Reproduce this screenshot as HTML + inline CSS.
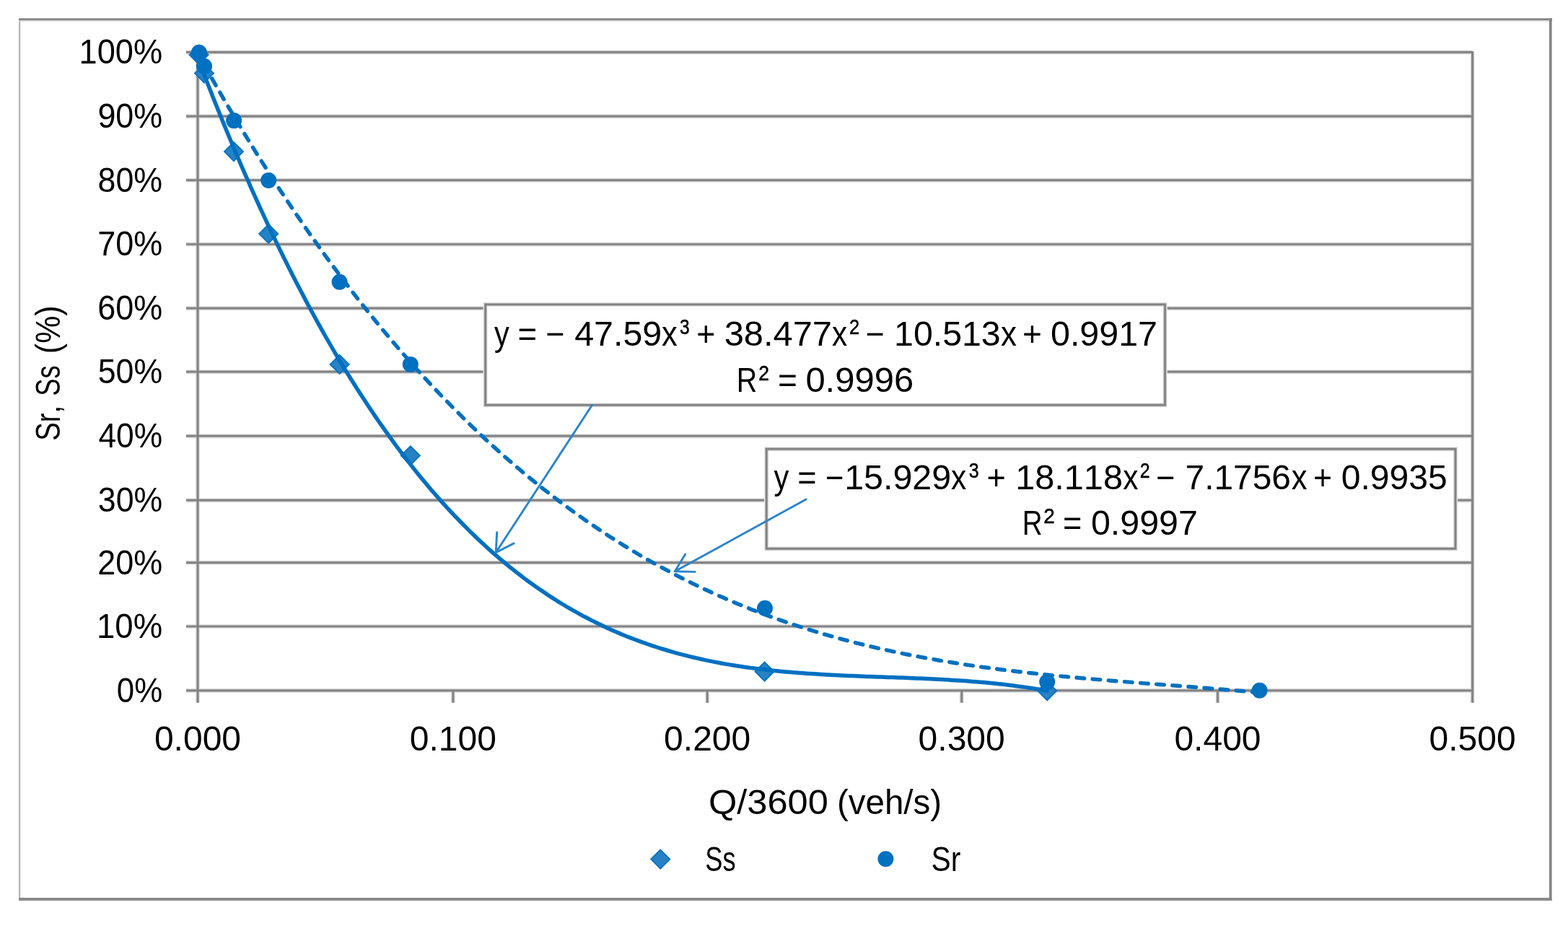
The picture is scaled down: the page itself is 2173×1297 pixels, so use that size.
<!DOCTYPE html>
<html lang="en">
<head>
<meta charset="utf-8">
<title>Sr, Ss (%) vs Q/3600 (veh/s)</title>
<style>
html,body{margin:0;padding:0;background:#fff;}
body{width:2173px;height:1297px;overflow:hidden;}
svg{display:block;}
text{font-family:"Liberation Sans",Arial,sans-serif;}
</style>
</head>
<body>
<svg width="2173" height="1297" viewBox="0 0 2173 1297">
<rect x="0" y="0" width="2173" height="1297" fill="#fff"/>
<g id="frame">
<rect x="26" y="25.5" width="2.2" height="1222" fill="#b4b4b4"/>
<rect x="26" y="25.3" width="2125" height="3.2" fill="#868686"/>
<rect x="26" y="28.5" width="2121" height="1.2" fill="#d8d8d8"/>
<rect x="2147" y="25.5" width="3.6" height="1222.5" fill="#848484"/>
<rect x="26" y="1244" width="2124.6" height="4" fill="#8a8a8a"/>
</g>
<g id="grid">
<path d="M258,956.9 L2040.6,956.9 M258,868.0 L2040.6,868.0 M258,779.6 L2040.6,779.6 M258,693.2 L2040.6,693.2 M258,604.2 L2040.6,604.2 M258,515.2 L2040.6,515.2 M258,427.1 L2040.6,427.1 M258,338.5 L2040.6,338.5 M258,249.7 L2040.6,249.7 M258,161.1 L2040.6,161.1 M258,72.4 L2040.6,72.4 M274.0,71.30000000000001 L274.0,973.8 M2040.6,71.30000000000001 L2040.6,973.8 M627.9,956.9 L627.9,973.8 M980.2,956.9 L980.2,973.8 M1332.7,956.9 L1332.7,973.8 M1687.5,956.9 L1687.5,973.8" fill="none" stroke="#eeeeee" stroke-width="6.4"/>
<path d="M258,956.9 L2040.6,956.9 M258,868.0 L2040.6,868.0 M258,779.6 L2040.6,779.6 M258,693.2 L2040.6,693.2 M258,604.2 L2040.6,604.2 M258,515.2 L2040.6,515.2 M258,427.1 L2040.6,427.1 M258,338.5 L2040.6,338.5 M258,249.7 L2040.6,249.7 M258,161.1 L2040.6,161.1 M258,72.4 L2040.6,72.4 M274.0,71.30000000000001 L274.0,973.8 M2040.6,71.30000000000001 L2040.6,973.8 M627.9,956.9 L627.9,973.8 M980.2,956.9 L980.2,973.8 M1332.7,956.9 L1332.7,973.8 M1687.5,956.9 L1687.5,973.8" fill="none" stroke="#c4c4c4" stroke-width="4.6"/>
<path d="M258,956.9 L2040.6,956.9 M258,868.0 L2040.6,868.0 M258,779.6 L2040.6,779.6 M258,693.2 L2040.6,693.2 M258,604.2 L2040.6,604.2 M258,515.2 L2040.6,515.2 M258,427.1 L2040.6,427.1 M258,338.5 L2040.6,338.5 M258,249.7 L2040.6,249.7 M258,161.1 L2040.6,161.1 M258,72.4 L2040.6,72.4 M274.0,71.30000000000001 L274.0,973.8 M2040.6,71.30000000000001 L2040.6,973.8 M627.9,956.9 L627.9,973.8 M980.2,956.9 L980.2,973.8 M1332.7,956.9 L1332.7,973.8 M1687.5,956.9 L1687.5,973.8" fill="none" stroke="#828282" stroke-width="2.7"/>
</g>
<g id="ss-markers" fill="#2682C4" stroke="#0A74C1" stroke-width="2">
<path d="M275.6,63.0 L288.6,76.0 L275.6,89.0 L262.6,76.0 Z"/>
<path d="M283.0,88.6 L296.0,101.6 L283.0,114.6 L270.0,101.6 Z"/>
<path d="M324.0,197.1 L337.0,210.1 L324.0,223.1 L311.0,210.1 Z"/>
<path d="M372.2,310.9 L385.2,323.9 L372.2,336.9 L359.2,323.9 Z"/>
<path d="M470.6,491.9 L483.6,504.9 L470.6,517.9 L457.6,504.9 Z"/>
<path d="M568.8,618.3 L581.8,631.3 L568.8,644.3 L555.8,631.3 Z"/>
<path d="M1059.6,917.6 L1072.6,930.6 L1059.6,943.6 L1046.6,930.6 Z"/>
<path d="M1451.2,944.3 L1464.2,957.3 L1451.2,970.3 L1438.2,957.3 Z"/>
</g>
<path id="ss-trend" transform="translate(0,0.4)" d="M275.6,83.9 L280.5,96.7 L285.4,109.4 L290.3,121.9 L295.2,134.3 L300.1,146.6 L305.0,158.7 L309.9,170.7 L314.8,182.6 L319.7,194.4 L324.6,206.0 L329.5,217.5 L334.4,228.9 L339.3,240.2 L344.2,251.3 L349.1,262.4 L354.0,273.3 L358.9,284.1 L363.8,294.7 L368.7,305.3 L373.6,315.7 L378.5,326.0 L383.4,336.2 L388.3,346.3 L393.2,356.3 L398.1,366.1 L403.0,375.8 L407.9,385.5 L412.8,395.0 L417.7,404.4 L422.6,413.7 L427.4,422.8 L432.3,431.9 L437.2,440.9 L442.1,449.7 L447.0,458.5 L451.9,467.1 L456.8,475.6 L461.7,484.1 L466.6,492.4 L471.5,500.6 L476.4,508.7 L481.3,516.7 L486.2,524.6 L491.1,532.4 L496.0,540.1 L500.9,547.7 L505.8,555.2 L510.7,562.6 L515.6,569.9 L520.5,577.2 L525.4,584.3 L530.3,591.3 L535.2,598.2 L540.1,605.0 L545.0,611.8 L549.9,618.4 L554.8,624.9 L559.7,631.4 L564.6,637.7 L569.5,644.0 L574.4,650.2 L579.3,656.3 L584.2,662.3 L589.1,668.2 L594.0,674.0 L598.9,679.8 L603.8,685.4 L608.7,691.0 L613.6,696.5 L618.5,701.9 L623.4,707.2 L628.3,712.4 L633.2,717.5 L638.1,722.6 L643.0,727.6 L647.9,732.5 L652.8,737.3 L657.7,742.1 L662.6,746.8 L667.5,751.3 L672.4,755.9 L677.3,760.3 L682.2,764.7 L687.1,769.0 L692.0,773.2 L696.9,777.3 L701.8,781.4 L706.7,785.4 L711.6,789.3 L716.5,793.2 L721.3,796.9 L726.2,800.7 L731.1,804.3 L736.0,807.9 L740.9,811.4 L745.8,814.8 L750.7,818.2 L755.6,821.5 L760.5,824.8 L765.4,828.0 L770.3,831.1 L775.2,834.2 L780.1,837.1 L785.0,840.1 L789.9,843.0 L794.8,845.8 L799.7,848.5 L804.6,851.2 L809.5,853.9 L814.4,856.4 L819.3,859.0 L824.2,861.4 L829.1,863.9 L834.0,866.2 L838.9,868.5 L843.8,870.8 L848.7,873.0 L853.6,875.1 L858.5,877.2 L863.4,879.3 L868.3,881.3 L873.2,883.2 L878.1,885.1 L883.0,887.0 L887.9,888.8 L892.8,890.5 L897.7,892.2 L902.6,893.9 L907.5,895.5 L912.4,897.1 L917.3,898.6 L922.2,900.1 L927.1,901.6 L932.0,903.0 L936.9,904.4 L941.8,905.7 L946.7,907.0 L951.6,908.2 L956.5,909.5 L961.4,910.6 L966.3,911.8 L971.2,912.9 L976.1,914.0 L981.0,915.0 L985.9,916.0 L990.8,917.0 L995.7,917.9 L1000.6,918.8 L1005.5,919.7 L1010.4,920.5 L1015.2,921.3 L1020.1,922.1 L1025.0,922.9 L1029.9,923.6 L1034.8,924.3 L1039.7,925.0 L1044.6,925.6 L1049.5,926.3 L1054.4,926.9 L1059.3,927.4 L1064.2,928.0 L1069.1,928.5 L1074.0,929.0 L1078.9,929.5 L1083.8,930.0 L1088.7,930.5 L1093.6,930.9 L1098.5,931.3 L1103.4,931.7 L1108.3,932.1 L1113.2,932.4 L1118.1,932.8 L1123.0,933.1 L1127.9,933.4 L1132.8,933.7 L1137.7,934.0 L1142.6,934.3 L1147.5,934.6 L1152.4,934.8 L1157.3,935.1 L1162.2,935.3 L1167.1,935.5 L1172.0,935.8 L1176.9,936.0 L1181.8,936.2 L1186.7,936.4 L1191.6,936.6 L1196.5,936.8 L1201.4,937.0 L1206.3,937.1 L1211.2,937.3 L1216.1,937.5 L1221.0,937.7 L1225.9,937.9 L1230.8,938.0 L1235.7,938.2 L1240.6,938.4 L1245.5,938.6 L1250.4,938.7 L1255.3,938.9 L1260.2,939.1 L1265.1,939.3 L1270.0,939.5 L1274.9,939.7 L1279.8,939.9 L1284.7,940.2 L1289.6,940.4 L1294.5,940.6 L1299.4,940.9 L1304.2,941.1 L1309.1,941.4 L1314.0,941.7 L1318.9,942.0 L1323.8,942.3 L1328.7,942.6 L1333.6,942.9 L1338.5,943.2 L1343.4,943.6 L1348.3,944.0 L1353.2,944.4 L1358.1,944.8 L1363.0,945.2 L1367.9,945.7 L1372.8,946.1 L1377.7,946.6 L1382.6,947.1 L1387.5,947.7 L1392.4,948.2 L1397.3,948.8 L1402.2,949.4 L1407.1,950.0 L1412.0,950.7 L1416.9,951.3 L1421.8,952.0 L1426.7,952.8 L1431.6,953.5 L1436.5,954.3 L1441.4,955.1 L1446.3,955.9 L1451.2,956.8" fill="none" stroke="#0070C0" stroke-width="5.5" stroke-linejoin="round" stroke-linecap="round"/>
<g id="sr-markers" fill="#0070C0">
<circle cx="275.8" cy="72.8" r="11.0"/>
<circle cx="283.0" cy="91.8" r="11.0"/>
<circle cx="324.1" cy="167.1" r="11.0"/>
<circle cx="372.2" cy="249.9" r="11.0"/>
<circle cx="470.6" cy="390.7" r="11.0"/>
<circle cx="568.8" cy="504.9" r="11.0"/>
<circle cx="1060.0" cy="842.7" r="11.0"/>
<circle cx="1451.2" cy="944.9" r="11.0"/>
<circle cx="1745.6" cy="956.8" r="11.0"/>
</g>
<path id="sr-trend" transform="translate(2.6,0.4)" d="M275.6,81.0 L281.7,91.9 L287.9,102.8 L294.0,113.5 L300.1,124.2 L306.2,134.7 L312.4,145.2 L318.5,155.5 L324.6,165.8 L330.7,176.0 L336.9,186.1 L343.0,196.0 L349.1,205.9 L355.2,215.8 L361.4,225.5 L367.5,235.1 L373.6,244.6 L379.7,254.1 L385.9,263.5 L392.0,272.7 L398.1,281.9 L404.2,291.0 L410.4,300.0 L416.5,308.9 L422.6,317.8 L428.7,326.5 L434.9,335.2 L441.0,343.8 L447.1,352.3 L453.2,360.7 L459.4,369.0 L465.5,377.3 L471.6,385.4 L477.7,393.5 L483.9,401.5 L490.0,409.5 L496.1,417.3 L502.2,425.1 L508.4,432.7 L514.5,440.3 L520.6,447.9 L526.7,455.3 L532.9,462.7 L539.0,469.9 L545.1,477.2 L551.2,484.3 L557.4,491.3 L563.5,498.3 L569.6,505.2 L575.7,512.1 L581.8,518.8 L588.0,525.5 L594.1,532.1 L600.2,538.6 L606.4,545.1 L612.5,551.5 L618.6,557.8 L624.7,564.0 L630.9,570.2 L637.0,576.3 L643.1,582.4 L649.2,588.3 L655.4,594.2 L661.5,600.0 L667.6,605.8 L673.7,611.5 L679.9,617.1 L686.0,622.7 L692.1,628.1 L698.2,633.6 L704.3,638.9 L710.5,644.2 L716.6,649.4 L722.7,654.6 L728.9,659.7 L735.0,664.7 L741.1,669.7 L747.2,674.6 L753.4,679.4 L759.5,684.2 L765.6,688.9 L771.7,693.6 L777.9,698.2 L784.0,702.7 L790.1,707.2 L796.2,711.6 L802.4,716.0 L808.5,720.3 L814.6,724.6 L820.7,728.7 L826.9,732.9 L833.0,736.9 L839.1,741.0 L845.2,744.9 L851.4,748.8 L857.5,752.7 L863.6,756.5 L869.7,760.2 L875.9,763.9 L882.0,767.6 L888.1,771.1 L894.2,774.7 L900.4,778.2 L906.5,781.6 L912.6,785.0 L918.7,788.3 L924.9,791.6 L931.0,794.8 L937.1,798.0 L943.2,801.1 L949.4,804.2 L955.5,807.2 L961.6,810.2 L967.7,813.2 L973.9,816.1 L980.0,818.9 L986.1,821.7 L992.2,824.5 L998.4,827.2 L1004.5,829.8 L1010.6,832.5 L1016.7,835.1 L1022.9,837.6 L1029.0,840.1 L1035.1,842.5 L1041.2,845.0 L1047.3,847.3 L1053.5,849.7 L1059.6,852.0 L1065.7,854.2 L1071.9,856.4 L1078.0,858.6 L1084.1,860.7 L1090.2,862.8 L1096.3,864.9 L1102.5,866.9 L1108.6,868.9 L1114.7,870.8 L1120.8,872.7 L1127.0,874.6 L1133.1,876.5 L1139.2,878.3 L1145.3,880.0 L1151.5,881.8 L1157.6,883.5 L1163.7,885.2 L1169.8,886.8 L1176.0,888.4 L1182.1,890.0 L1188.2,891.5 L1194.3,893.1 L1200.5,894.5 L1206.6,896.0 L1212.7,897.4 L1218.8,898.8 L1225.0,900.2 L1231.1,901.5 L1237.2,902.9 L1243.3,904.1 L1249.5,905.4 L1255.6,906.6 L1261.7,907.8 L1267.8,909.0 L1274.0,910.2 L1280.1,911.3 L1286.2,912.4 L1292.3,913.5 L1298.5,914.6 L1304.6,915.6 L1310.7,916.6 L1316.8,917.6 L1323.0,918.6 L1329.1,919.6 L1335.2,920.5 L1341.3,921.4 L1347.5,922.3 L1353.6,923.2 L1359.7,924.1 L1365.8,924.9 L1372.0,925.7 L1378.1,926.5 L1384.2,927.3 L1390.3,928.1 L1396.5,928.8 L1402.6,929.6 L1408.7,930.3 L1414.8,931.0 L1421.0,931.7 L1427.1,932.4 L1433.2,933.0 L1439.3,933.7 L1445.5,934.3 L1451.6,935.0 L1457.7,935.6 L1463.8,936.2 L1470.0,936.8 L1476.1,937.4 L1482.2,937.9 L1488.4,938.5 L1494.5,939.1 L1500.6,939.6 L1506.7,940.2 L1512.8,940.7 L1519.0,941.2 L1525.1,941.7 L1531.2,942.3 L1537.4,942.8 L1543.5,943.3 L1549.6,943.8 L1555.7,944.2 L1561.8,944.7 L1568.0,945.2 L1574.1,945.7 L1580.2,946.2 L1586.4,946.7 L1592.5,947.1 L1598.6,947.6 L1604.7,948.1 L1610.8,948.5 L1617.0,949.0 L1623.1,949.5 L1629.2,949.9 L1635.4,950.4 L1641.5,950.9 L1647.6,951.4 L1653.7,951.8 L1659.8,952.3 L1666.0,952.8 L1672.1,953.3 L1678.2,953.8 L1684.3,954.3 L1690.5,954.8 L1696.6,955.3 L1702.7,955.8 L1708.8,956.3 L1715.0,956.9 L1721.1,957.4 L1727.2,957.9 L1733.3,958.5 L1739.5,959.0 L1745.6,959.6" fill="none" stroke="#0070C0" stroke-width="5.4" stroke-dasharray="10.8 11.4" stroke-dashoffset="12.78" stroke-linecap="round" stroke-linejoin="round"/>
<rect x="672.7" y="421.9" width="941.8" height="139.39999999999998" fill="#fff" stroke="#eeeeee" stroke-width="6.4"/>
<rect x="672.7" y="421.9" width="941.8" height="139.39999999999998" fill="none" stroke="#c4c4c4" stroke-width="4.6"/>
<rect x="672.7" y="421.9" width="941.8" height="139.39999999999998" fill="none" stroke="#828282" stroke-width="2.7"/>
<rect x="1062.2" y="622.2" width="954.8" height="138.0999999999999" fill="#fff" stroke="#eeeeee" stroke-width="6.4"/>
<rect x="1062.2" y="622.2" width="954.8" height="138.0999999999999" fill="none" stroke="#c4c4c4" stroke-width="4.6"/>
<rect x="1062.2" y="622.2" width="954.8" height="138.0999999999999" fill="none" stroke="#828282" stroke-width="2.7"/>
<path d="M820.4,561.5 L687.2,765.6 M688.7,737.6 L687.2,765.6 M712.2,752.9 L687.2,765.6" fill="none" stroke="#2C84C8" stroke-width="2.9" stroke-linecap="round" stroke-linejoin="round"/>
<path d="M1117.0,692.0 L935.2,791.8 M949.7,767.9 L935.2,791.8 M963.2,792.4 L935.2,791.8" fill="none" stroke="#2C84C8" stroke-width="2.9" stroke-linecap="round" stroke-linejoin="round"/>
<g id="labels" font-family="'Liberation Sans', Arial, sans-serif" style="font-kerning:none">
<text transform="translate(161.79,972.80) scale(0.9226,1)" font-size="47.53" fill="#000">0%</text>
<text transform="translate(134.03,883.90) scale(0.9586,1)" font-size="47.53" fill="#000">10%</text>
<text transform="translate(135.24,795.50) scale(0.9457,1)" font-size="47.53" fill="#000">20%</text>
<text transform="translate(135.80,709.10) scale(0.9397,1)" font-size="47.53" fill="#000">30%</text>
<text transform="translate(136.48,620.10) scale(0.9324,1)" font-size="47.53" fill="#000">40%</text>
<text transform="translate(135.71,531.10) scale(0.9407,1)" font-size="47.53" fill="#000">50%</text>
<text transform="translate(135.22,443.00) scale(0.9459,1)" font-size="47.53" fill="#000">60%</text>
<text transform="translate(135.19,354.40) scale(0.9462,1)" font-size="47.53" fill="#000">70%</text>
<text transform="translate(135.55,265.60) scale(0.9423,1)" font-size="47.53" fill="#000">80%</text>
<text transform="translate(135.40,177.00) scale(0.9440,1)" font-size="47.53" fill="#000">90%</text>
<text transform="translate(109.56,87.80) scale(0.9514,1)" font-size="47.53" fill="#000">100%</text>
<text transform="translate(213.92,1040.40) scale(1.0102,1)" font-size="47.53" fill="#000">0.000</text>
<text transform="translate(567.82,1040.40) scale(1.0102,1)" font-size="47.53" fill="#000">0.100</text>
<text transform="translate(920.12,1040.40) scale(1.0102,1)" font-size="47.53" fill="#000">0.200</text>
<text transform="translate(1272.62,1040.40) scale(1.0102,1)" font-size="47.53" fill="#000">0.300</text>
<text transform="translate(1627.42,1040.40) scale(1.0102,1)" font-size="47.53" fill="#000">0.400</text>
<text transform="translate(1980.52,1040.40) scale(1.0102,1)" font-size="47.53" fill="#000">0.500</text>
<text transform="translate(982.01,1128.30) scale(1.0632,1)" font-size="47.53" fill="#000">Q/3600</text>
<text transform="translate(1159.95,1128.30) scale(0.9995,1)" font-size="47.53" fill="#000">(veh/s)</text>
<text transform="translate(83.00,609.00) rotate(-90) translate(-1.74,0) scale(0.8065,1)" font-size="47.53" fill="#000">Sr,</text>
<text transform="translate(83.00,609.00) rotate(-90) translate(60.35,0) scale(0.7637,1)" font-size="47.53" fill="#000">Ss</text>
<text transform="translate(83.00,609.00) rotate(-90) translate(118.84,0) scale(0.9041,1)" font-size="47.53" fill="#000">(%)</text>
<text transform="translate(977.36,1207.20) scale(0.7618,1)" font-size="47.53" fill="#000">Ss</text>
<text transform="translate(1290.55,1207.20) scale(0.8568,1)" font-size="47.53" fill="#000">Sr</text>
<text transform="translate(685.10,479.20) scale(0.8745,1)" font-size="47.53" fill="#000">y</text>
<text transform="translate(717.57,479.20) scale(0.9614,1)" font-size="47.53" fill="#000">=</text>
<text transform="translate(756.60,479.20) scale(0.9397,1)" font-size="47.53" fill="#000">−</text>
<text transform="translate(796.19,479.20) scale(1.0182,1)" font-size="47.53" fill="#000">47.59</text>
<text transform="translate(916.91,479.20) scale(0.9155,1)" font-size="47.53" fill="#000">x</text>
<text transform="translate(942.07,463.20) scale(0.8251,1)" font-size="29.65" fill="#000" stroke="#000" stroke-width="0.55">3</text>
<text transform="translate(965.32,479.20) scale(0.9397,1)" font-size="47.53" fill="#000">+</text>
<text transform="translate(1003.64,479.20) scale(1.0278,1)" font-size="47.53" fill="#000">38.477</text>
<text transform="translate(1153.02,479.20) scale(0.8935,1)" font-size="47.53" fill="#000">x</text>
<text transform="translate(1177.02,463.20) scale(0.8587,1)" font-size="29.65" fill="#000" stroke="#000" stroke-width="0.55">2</text>
<text transform="translate(1199.80,479.20) scale(0.9397,1)" font-size="47.53" fill="#000">−</text>
<text transform="translate(1239.12,479.20) scale(1.0153,1)" font-size="47.53" fill="#000">10.513</text>
<text transform="translate(1387.11,479.20) scale(0.9243,1)" font-size="47.53" fill="#000">x</text>
<text transform="translate(1416.95,479.20) scale(0.9700,1)" font-size="47.53" fill="#000">+</text>
<text transform="translate(1456.01,479.20) scale(1.0182,1)" font-size="47.53" fill="#000">0.9917</text>
<text transform="translate(1020.77,542.60) scale(0.8292,1)" font-size="47.53" fill="#000">R</text>
<text transform="translate(1051.26,526.60) scale(0.8957,1)" font-size="29.65" fill="#000" stroke="#000" stroke-width="0.55">2</text>
<text transform="translate(1077.95,542.60) scale(0.9700,1)" font-size="47.53" fill="#000">=</text>
<text transform="translate(1116.39,542.60) scale(1.0302,1)" font-size="47.53" fill="#000">0.9996</text>
<text transform="translate(1072.50,678.00) scale(0.8745,1)" font-size="47.53" fill="#000">y</text>
<text transform="translate(1105.30,678.00) scale(0.9484,1)" font-size="47.53" fill="#000">=</text>
<text transform="translate(1143.94,678.00) scale(0.9224,1)" font-size="47.53" fill="#000">−</text>
<text transform="translate(1170.22,678.00) scale(1.0172,1)" font-size="47.53" fill="#000">15.929</text>
<text transform="translate(1318.12,678.00) scale(0.8935,1)" font-size="47.53" fill="#000">x</text>
<text transform="translate(1342.65,662.00) scale(0.8394,1)" font-size="29.65" fill="#000" stroke="#000" stroke-width="0.55">3</text>
<text transform="translate(1367.60,678.00) scale(0.9484,1)" font-size="47.53" fill="#000">+</text>
<text transform="translate(1407.19,678.00) scale(1.0237,1)" font-size="47.53" fill="#000">18.118</text>
<text transform="translate(1556.22,678.00) scale(0.8935,1)" font-size="47.53" fill="#000">x</text>
<text transform="translate(1579.64,662.00) scale(0.8439,1)" font-size="29.65" fill="#000" stroke="#000" stroke-width="0.55">2</text>
<text transform="translate(1602.18,678.00) scale(0.9484,1)" font-size="47.53" fill="#000">−</text>
<text transform="translate(1642.54,678.00) scale(1.0075,1)" font-size="47.53" fill="#000">7.1756</text>
<text transform="translate(1789.71,678.00) scale(0.9155,1)" font-size="47.53" fill="#000">x</text>
<text transform="translate(1819.92,678.00) scale(0.9397,1)" font-size="47.53" fill="#000">+</text>
<text transform="translate(1858.72,678.00) scale(1.0111,1)" font-size="47.53" fill="#000">0.9935</text>
<text transform="translate(1416.84,740.70) scale(0.8115,1)" font-size="47.53" fill="#000">R</text>
<text transform="translate(1446.20,724.70) scale(0.9402,1)" font-size="29.65" fill="#000" stroke="#000" stroke-width="0.55">2</text>
<text transform="translate(1473.00,740.70) scale(0.9484,1)" font-size="47.53" fill="#000">=</text>
<text transform="translate(1511.91,740.70) scale(1.0175,1)" font-size="47.53" fill="#000">0.9997</text>
</g>
<path d="M915.2,1177.6 L928.2,1190.6 L915.2,1203.6 L902.2,1190.6 Z" fill="#2682C4" stroke="#0A74C1" stroke-width="2"/>
<circle cx="1227.4" cy="1190.2" r="11.0" fill="#0070C0"/>
</svg>
</body>
</html>
